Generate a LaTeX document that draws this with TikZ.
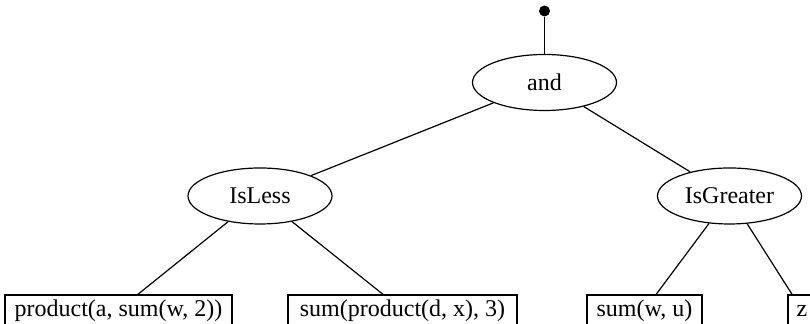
\documentclass[tikz,border=0pt]{standalone}
\usepackage{fontspec}
\setmainfont{Liberation Serif}
\usetikzlibrary{shapes.geometric}
\tikzset{
  op/.style={ellipse, draw, line width=0.6pt, minimum width=72pt, minimum height=28pt, inner sep=0pt, font=\fontsize{12}{14}\selectfont},
  leaf/.style={rectangle, draw, line width=0.6pt, minimum height=15pt, inner ysep=0pt, inner xsep=2pt, text height=8.3pt, text depth=2.2pt, font=\fontsize{12}{14}\selectfont},
  edge/.style={draw, line width=0.6pt},
  rootdot/.style={circle, fill, inner sep=0pt, minimum size=5.5pt}
}
\begin{document}
\begin{tikzpicture}[x=0.5pt,y=0.5pt]
\clip (0,0) rectangle (810,324);
\node[rootdot] (top) at (544.5,313) {};
\node[op] (and) at (544.5,241.5) {and};
\node[op] (isless) at (260,128) {IsLess};
\node[op] (isgreater) at (729.5,128) {IsGreater};
\node[leaf, minimum width=113.5pt] (l1) at (118.5,14) {product(a, sum(w, 2))};
\node[leaf, minimum width=114.5pt] (l2) at (402.5,14) {sum(product(d, x), 3)};
\node[leaf, minimum width=57.5pt] (l3) at (644.5,14) {sum(w, u)};
\node[leaf, minimum width=14pt] (l4) at (802,14) {z};
\draw[edge] (top) -- (and);
\draw[edge] (and) -- (isless);
\draw[edge] (and) -- (isgreater);
\draw[edge] (isless) -- (l1);
\draw[edge] (isless) -- (l2);
\draw[edge] (isgreater) -- (l3);
\draw[edge] (isgreater) -- (l4);
\end{tikzpicture}
\end{document}
